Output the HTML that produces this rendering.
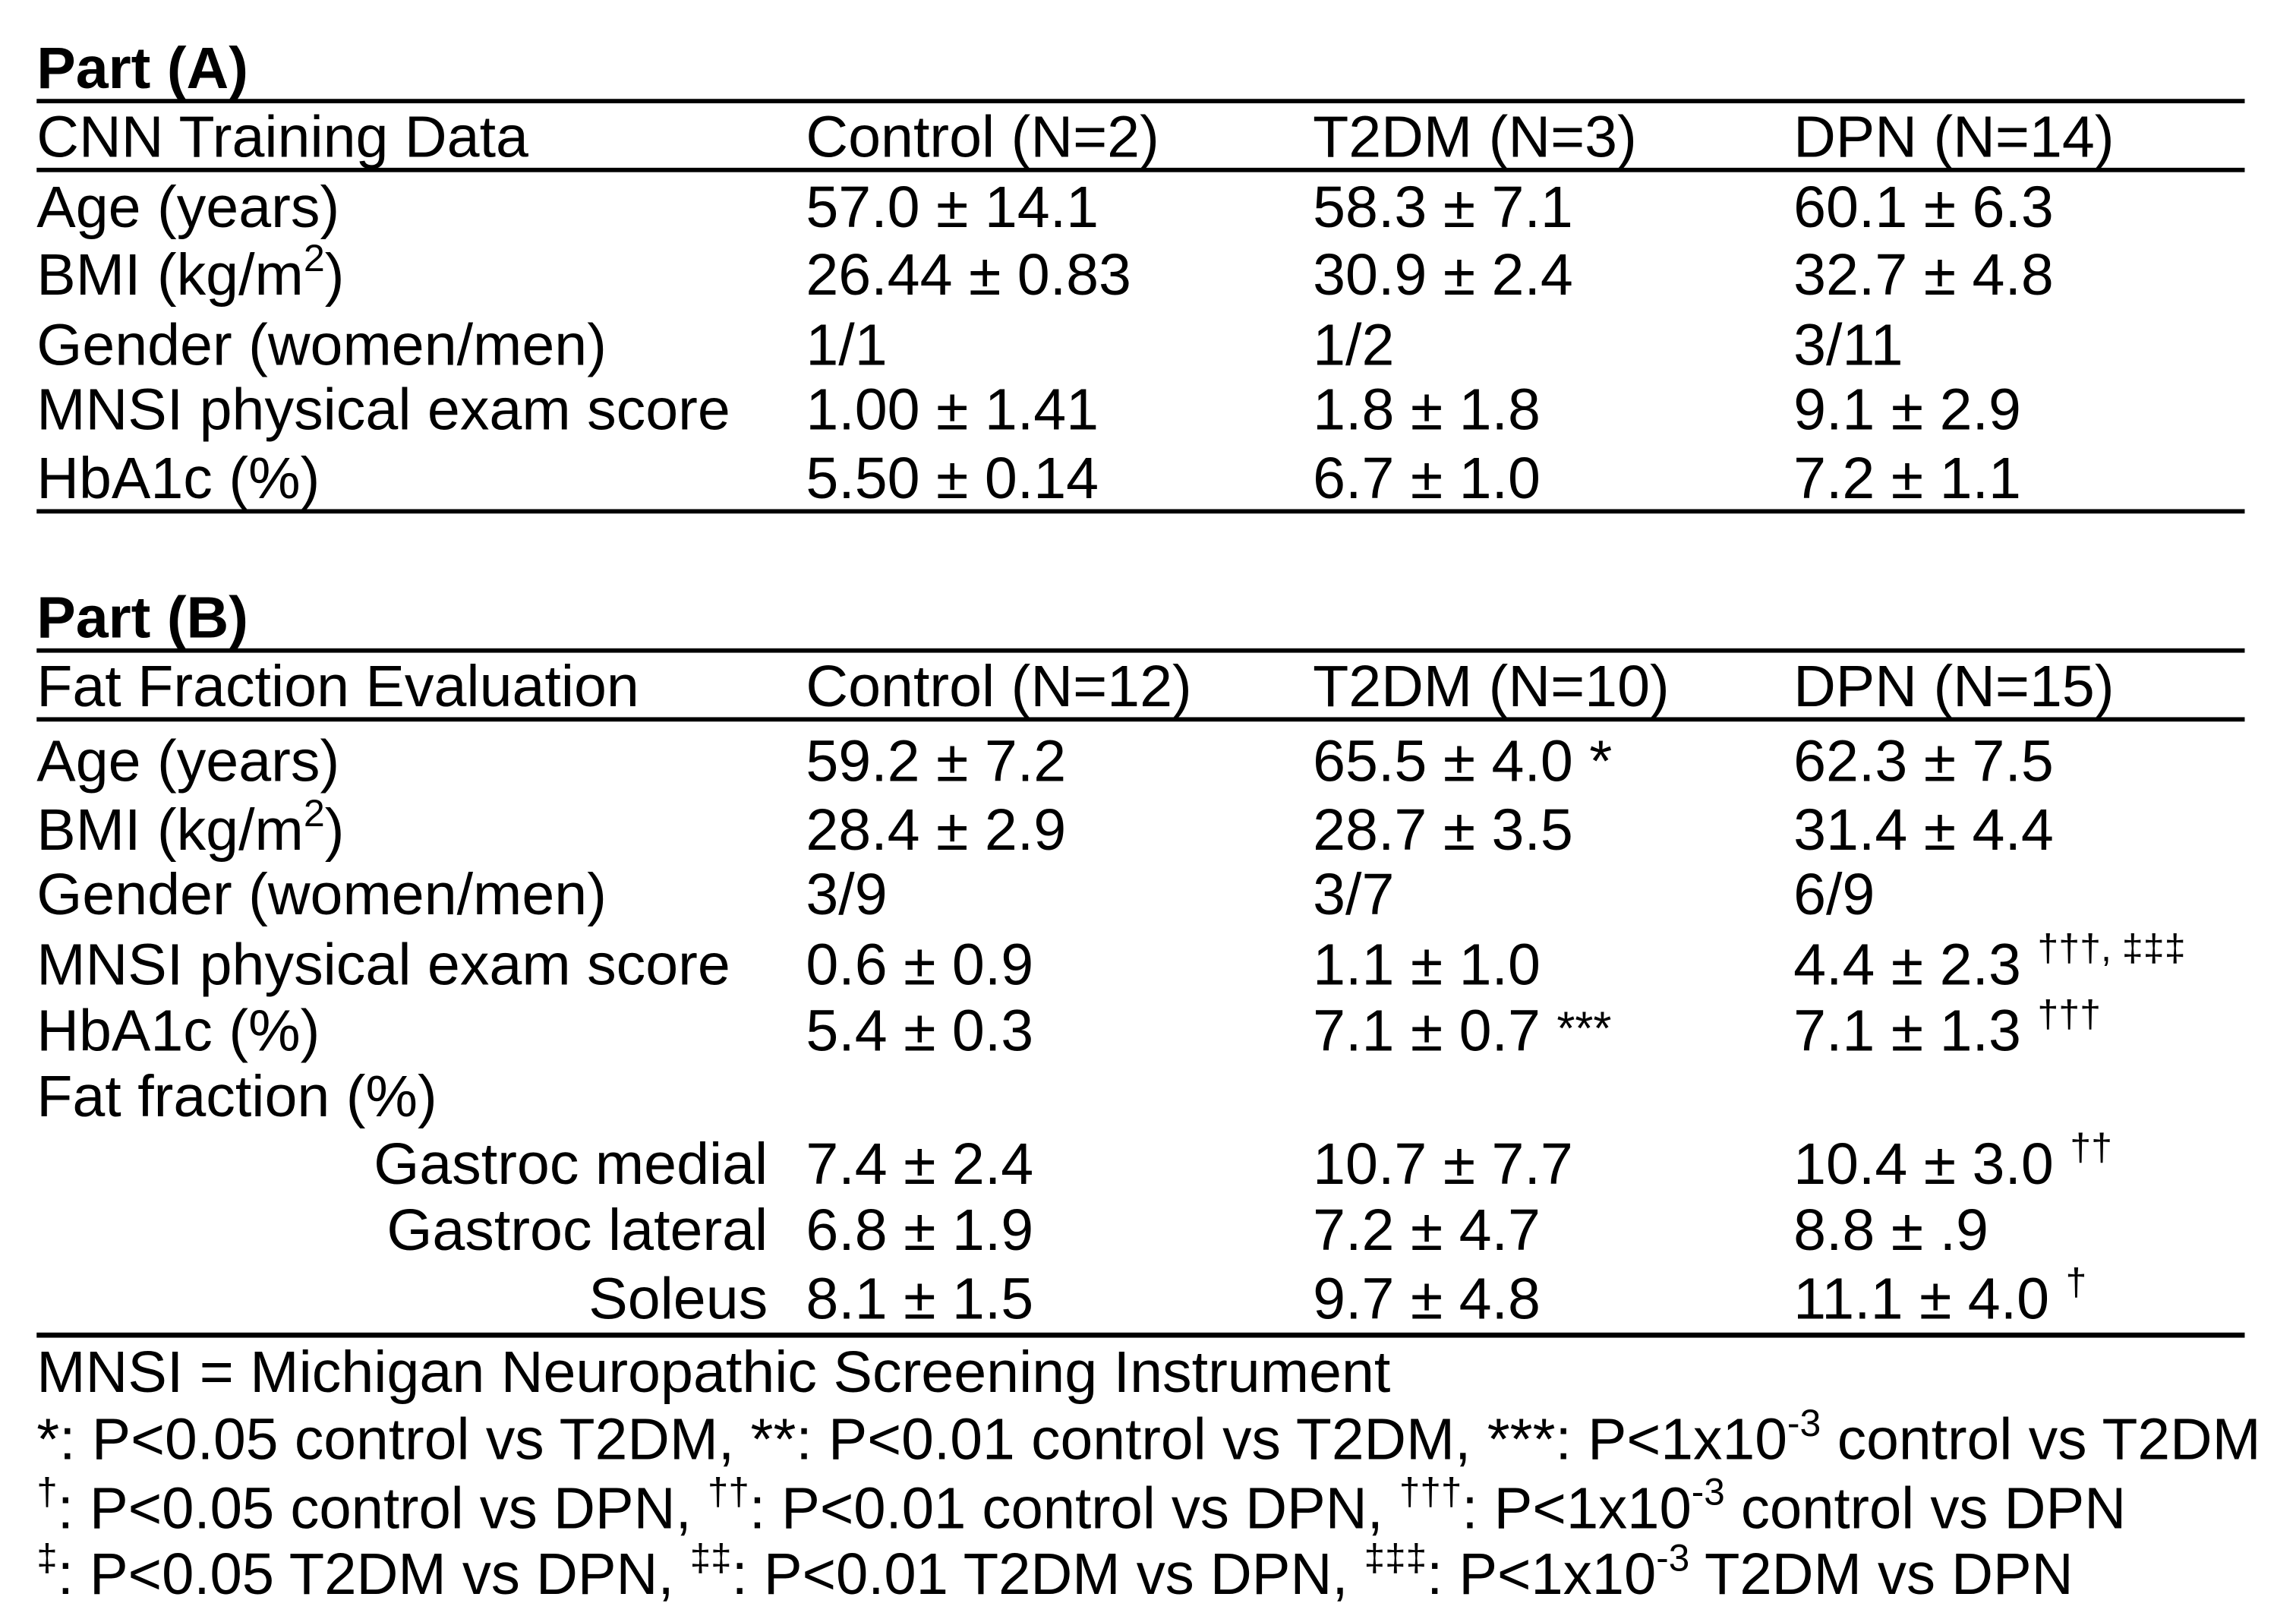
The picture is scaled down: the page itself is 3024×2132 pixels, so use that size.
<!DOCTYPE html>
<html><head><meta charset="utf-8"><style>
html,body{margin:0;padding:0;background:#fff;}
svg{display:block;}
text{font-family:"Liberation Sans",Arial,sans-serif;font-size:40px;fill:#000;}
.b{font-weight:bold;}
.s{font-size:26px;}
.r{text-anchor:end;}
</style></head><body>
<svg width="3024" height="2132" viewBox="0 0 1567 1105" preserveAspectRatio="none" xmlns="http://www.w3.org/2000/svg">
<rect width="1567" height="1105" fill="#fff"/>
<g fill="#000">
<rect x="25" y="67.5" width="1507" height="3"/>
<rect x="25" y="114.5" width="1507" height="3"/>
<rect x="25" y="347.5" width="1507" height="3"/>
<rect x="25" y="442.5" width="1507" height="3"/>
<rect x="25" y="489.5" width="1507" height="3"/>
<rect x="25" y="909.5" width="1507" height="3.5"/>
</g>
<text class="b" x="25" y="60">Part (A)</text>
<text x="25" y="107">CNN Training Data</text><text x="550" y="107">Control (N=2)</text><text x="896" y="107">T2DM (N=3)</text><text x="1224" y="107">DPN (N=14)</text>
<text x="25" y="155">Age (years)</text><text x="550" y="155">57.0 ± 14.1</text><text x="896" y="155">58.3 ± 7.1</text><text x="1224" y="155">60.1 ± 6.3</text>
<text x="25" y="201">BMI (kg/m<tspan class="s" dy="-16">2</tspan><tspan dy="16">)</tspan></text><text x="550" y="201">26.44 ± 0.83</text><text x="896" y="201">30.9 ± 2.4</text><text x="1224" y="201">32.7 ± 4.8</text>
<text x="25" y="249">Gender (women/men)</text><text x="550" y="249">1/1</text><text x="896" y="249">1/2</text><text x="1224" y="249">3/11</text>
<text x="25" y="293">MNSI physical exam score</text><text x="550" y="293">1.00 ± 1.41</text><text x="896" y="293">1.8 ± 1.8</text><text x="1224" y="293">9.1 ± 2.9</text>
<text x="25" y="340">HbA1c (%)</text><text x="550" y="340">5.50 ± 0.14</text><text x="896" y="340">6.7 ± 1.0</text><text x="1224" y="340">7.2 ± 1.1</text>

<text class="b" x="25" y="435">Part (B)</text>
<text x="25" y="482">Fat Fraction Evaluation</text><text x="550" y="482">Control (N=12)</text><text x="896" y="482">T2DM (N=10)</text><text x="1224" y="482">DPN (N=15)</text>
<text x="25" y="533">Age (years)</text><text x="550" y="533">59.2 ± 7.2</text><text x="896" y="533">65.5 ± 4.0 *</text><text x="1224" y="533">62.3 ± 7.5</text>
<text x="25" y="580">BMI (kg/m<tspan class="s" dy="-16">2</tspan><tspan dy="16">)</tspan></text><text x="550" y="580">28.4 ± 2.9</text><text x="896" y="580">28.7 ± 3.5</text><text x="1224" y="580">31.4 ± 4.4</text>
<text x="25" y="624">Gender (women/men)</text><text x="550" y="624">3/9</text><text x="896" y="624">3/7</text><text x="1224" y="624">6/9</text>
<text x="25" y="672">MNSI physical exam score</text><text x="550" y="672">0.6 ± 0.9</text><text x="896" y="672">1.1 ± 1.0</text><text x="1224" y="672">4.4 ± 2.3 <tspan class="s" dy="-16">†††, ‡‡‡</tspan></text>
<text x="25" y="717">HbA1c (%)</text><text x="550" y="717">5.4 ± 0.3</text><text x="896" y="717">7.1 ± 0.7 <tspan style="font-size:32px" dy="-4">***</tspan></text><text x="1224" y="717">7.1 ± 1.3 <tspan class="s" dy="-16">†††</tspan></text>
<text x="25" y="762">Fat fraction (%)</text>
<text class="r" x="524" y="808">Gastroc medial</text><text x="550" y="808">7.4 ± 2.4</text><text x="896" y="808">10.7 ± 7.7</text><text x="1224" y="808">10.4 ± 3.0 <tspan class="s" dy="-16">††</tspan></text>
<text class="r" x="524" y="853">Gastroc lateral</text><text x="550" y="853">6.8 ± 1.9</text><text x="896" y="853">7.2 ± 4.7</text><text x="1224" y="853">8.8 ± .9</text>
<text class="r" x="524" y="900">Soleus</text><text x="550" y="900">8.1 ± 1.5</text><text x="896" y="900">9.7 ± 4.8</text><text x="1224" y="900">11.1 ± 4.0 <tspan class="s" dy="-16">†</tspan></text>

<text x="25" y="950" textLength="924" lengthAdjust="spacingAndGlyphs">MNSI = Michigan Neuropathic Screening Instrument</text>
<text x="25" y="996" textLength="1518" lengthAdjust="spacingAndGlyphs">*: P&lt;0.05 control vs T2DM, **: P&lt;0.01 control vs T2DM, ***: P&lt;1x10<tspan class="s" dy="-16">-3</tspan><tspan dy="16"> control vs T2DM</tspan></text>
<text x="25" y="1043" textLength="1426" lengthAdjust="spacingAndGlyphs"><tspan class="s" dy="-16">†</tspan><tspan dy="16">: P&lt;0.05 control vs DPN, </tspan><tspan class="s" dy="-16">††</tspan><tspan dy="16">: P&lt;0.01 control vs DPN, </tspan><tspan class="s" dy="-16">†††</tspan><tspan dy="16">: P&lt;1x10</tspan><tspan class="s" dy="-16">-3</tspan><tspan dy="16"> control vs DPN</tspan></text>
<text x="25" y="1088" textLength="1390" lengthAdjust="spacingAndGlyphs"><tspan class="s" dy="-16">‡</tspan><tspan dy="16">: P&lt;0.05 T2DM vs DPN, </tspan><tspan class="s" dy="-16">‡‡</tspan><tspan dy="16">: P&lt;0.01 T2DM vs DPN, </tspan><tspan class="s" dy="-16">‡‡‡</tspan><tspan dy="16">: P&lt;1x10</tspan><tspan class="s" dy="-16">-3</tspan><tspan dy="16"> T2DM vs DPN</tspan></text>
</svg>
</body></html>
